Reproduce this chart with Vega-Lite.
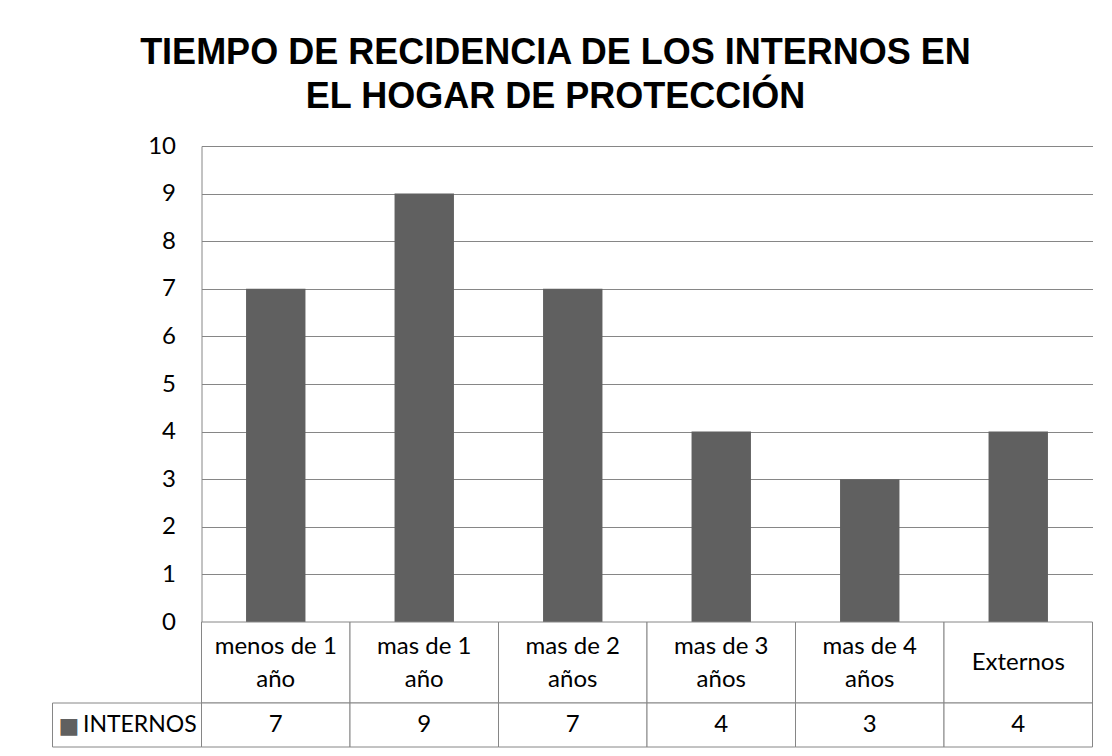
{
  "$schema": "https://vega.github.io/schema/vega-lite/v6.json",
  "background": "white",
  "padding": {"left": 51.5, "top": 35, "right": 19, "bottom": 8},
  "datasets": {
    "tabla": [
      {"categoria": "menos de 1\naño", "internos": 7},
      {"categoria": "mas de 1\naño", "internos": 9},
      {"categoria": "mas de 2\naños", "internos": 7},
      {"categoria": "mas de 3\naños", "internos": 4},
      {"categoria": "mas de 4\naños", "internos": 3},
      {"categoria": "Externos", "internos": 4}
    ],
    "serie": [{"serie": "INTERNOS", "clave": "■"}]
  },
  "title": {
    "text": ["TIEMPO DE RECIDENCIA DE LOS INTERNOS EN", "EL HOGAR DE PROTECCIÓN"],
    "font": "Liberation Sans",
    "fontSize": 36,
    "fontWeight": "bold",
    "color": "black",
    "lineHeight": 44,
    "anchor": "middle",
    "offset": 18,
    "dx": -17
  },
  "concat": [
    {
      "width": 149, "height": 476,
      "data": {"values": []},
      "mark": "point",
      "encoding": {}
    },
    {
      "width": 891, "height": 476,
      "data": {"name": "tabla"},
      "mark": {"type": "bar", "color": "#606060"},
      "encoding": {
        "x": {"field": "categoria", "type": "nominal", "sort": null, "axis": null,
              "scale": {"paddingInner": 0.6, "paddingOuter": 0.3}},
        "y": {"field": "internos", "type": "quantitative",
              "scale": {"domain": [0, 10], "nice": false},
              "axis": {"title": null, "values": [0,1,2,3,4,5,6,7,8,9,10], "grid": true,
                       "gridColor": "#868686", "gridWidth": 1, "gridOpacity": 1,
                       "domainColor": "#868686", "domainWidth": 1,
                       "ticks": false, "tickSize": 0, "labelPadding": 26,
                       "labelFont": "Lato", "labelFontSize": 24, "labelColor": "black"}}
      }
    },
    {
      "width": 149, "height": 81,
      "data": {"values": []},
      "mark": "point",
      "encoding": {}
    },
    {
      "width": 891, "height": 81,
      "data": {"name": "tabla"},
      "encoding": {
        "x": {"field": "categoria", "type": "nominal", "sort": null, "axis": null,
              "scale": {"paddingInner": 0, "paddingOuter": 0}}
      },
      "layer": [
        {"mark": {"type": "rect", "fill": "white", "stroke": "#868686", "strokeWidth": 1}},
        {"transform": [{"filter": "indexof(datum.categoria, '\\n') >= 0"}],
         "mark": {"type": "text", "font": "Lato", "fontSize": 24, "lineBreak": "\n",
                  "lineHeight": 33, "baseline": "middle", "dy": -16, "color": "black"},
         "encoding": {"text": {"field": "categoria"}}},
        {"transform": [{"filter": "indexof(datum.categoria, '\\n') < 0"}],
         "mark": {"type": "text", "font": "Lato", "fontSize": 24,
                  "baseline": "middle", "color": "black"},
         "encoding": {"text": {"field": "categoria"}}}
      ]
    },
    {
      "width": 149, "height": 44,
      "data": {"name": "serie"},
      "layer": [
        {"mark": {"type": "rect", "fill": "white", "stroke": "#868686", "strokeWidth": 1}, "encoding": {}},
        {"mark": {"type": "text", "font": "Lato", "fontSize": 23, "baseline": "middle", "align": "left", "dx": -44, "color": "black"},
         "encoding": {"text": {"field": "serie"}}},
        {"mark": {"type": "text", "font": "DejaVu Sans", "fontSize": 22, "baseline": "middle", "align": "center", "dx": -58, "dy": 1, "color": "#606060"},
         "encoding": {"text": {"field": "clave"}}}
      ]
    },
    {
      "width": 891, "height": 44,
      "data": {"name": "tabla"},
      "encoding": {
        "x": {"field": "categoria", "type": "nominal", "sort": null, "axis": null,
              "scale": {"paddingInner": 0, "paddingOuter": 0}}
      },
      "layer": [
        {"mark": {"type": "rect", "fill": "white", "stroke": "#868686", "strokeWidth": 1}},
        {"mark": {"type": "text", "font": "Lato", "fontSize": 24, "baseline": "middle", "color": "black"},
         "encoding": {"text": {"field": "internos"}}}
      ]
    }
  ],
  "columns": 2,
  "spacing": 0,
  "bounds": "flush",
  "align": "each",
  "resolve": {"scale": {"x": "independent", "y": "independent"}},
  "config": {
    "view": {"stroke": null},
    "font": "Lato"
  }
}
